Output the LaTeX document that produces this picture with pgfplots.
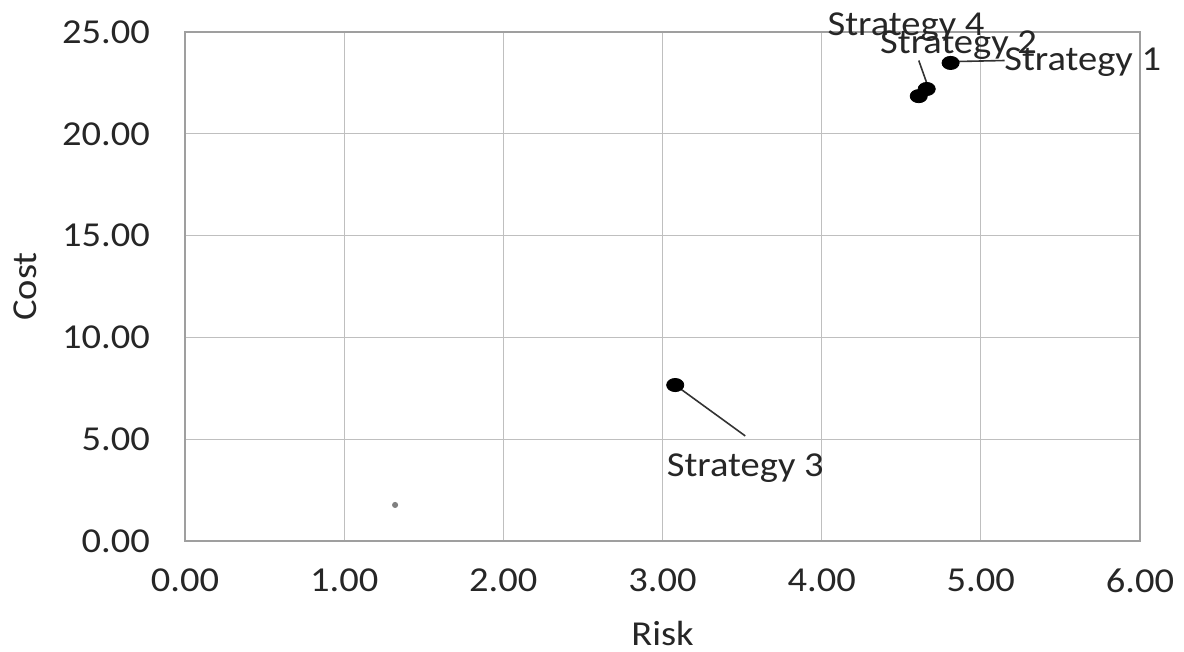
\documentclass[border=0pt]{standalone}
\usepackage{pgfplots}
\pgfplotsset{compat=1.18}
\usepackage{fontspec}
\setmainfont{Carlito}[FakeStretch=1.1]
\begin{document}
\begin{tikzpicture}
\useasboundingbox (-92.5pt,-55.5pt) rectangle (499.5pt,270.5pt);
\begin{axis}[
  scale only axis,
  width=477.5pt, height=254.5pt,
  xmin=0, xmax=6, ymin=0, ymax=25,
  xtick={0,1,...,6}, ytick={0,5,...,25},
  grid=major,
  grid style={gray!50, line width=0.6pt},
  axis line style={gray!75, line width=0.8pt},
  tick style={draw=none},
  /pgf/number format/assume math mode=true,
  /pgf/number format/.cd, fixed, fixed zerofill, precision=2, /pgfplots/.cd,
  ticklabel style={font=\fontsize{17.5}{20}\selectfont, text=black!85},
  xticklabel style={yshift=-10.5pt},
  yticklabel style={xshift=-14pt},
  label style={font=\fontsize{17.5}{20}\selectfont, text=black!85},
  xlabel={Risk}, ylabel={Cost},
  xlabel style={yshift=-7pt},
  ylabel style={yshift=6pt},
  clip=false,
]
\addplot[only marks, mark=*, mark size=3.3pt, mark options={xscale=1.3, fill=black, draw=black}] coordinates {
  (4.81,23.48) (4.61,21.85) (3.08,7.66) (4.66,22.2)
};
\addplot[only marks, mark=*, mark size=1.3pt, mark options={fill=gray, draw=gray}] coordinates {
  (1.32,1.77)
};
\draw[black!80, line width=0.8pt] (axis cs:3.08,7.66) -- (axis cs:3.52,5.16);
\draw[black!80, line width=0.8pt] (axis cs:4.61,23.6) -- (axis cs:4.66,22.5);
\draw[black!80, line width=0.8pt] (axis cs:4.85,23.55) -- (axis cs:5.15,23.6);
\node[font=\fontsize{17.5}{20}\selectfont, text=black!85] at (axis cs:4.53,25.25) {Strategy 4};
\node[font=\fontsize{17.5}{20}\selectfont, text=black!85] at (axis cs:4.86,24.36) {Strategy 2};
\node[font=\fontsize{17.5}{20}\selectfont, text=black!85] at (axis cs:5.64,23.53) {Strategy 1};
\node[font=\fontsize{17.5}{20}\selectfont, text=black!85] at (axis cs:3.52,3.59) {Strategy 3};
\end{axis}
\end{tikzpicture}
\end{document}
